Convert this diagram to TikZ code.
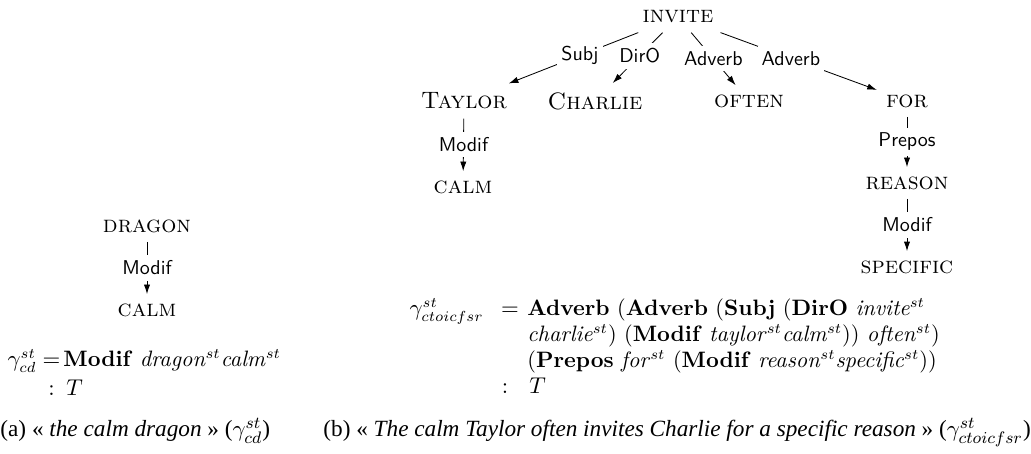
\documentclass[tikz,border=0pt]{standalone}
\usepackage{fontspec}
\usetikzlibrary{arrows.meta}
\newfontfamily\capfont{Liberation Serif}
\begin{document}
\begin{tikzpicture}[x=0.48pt,y=-0.48pt,
	word/.style={font=\fontsize{11.4}{13}\selectfont\scshape,inner sep=4.3pt},
	rel/.style={font=\fontsize{9.6}{11}\selectfont\sffamily,fill=white,inner xsep=2pt,inner ysep=2.6pt},
	dep/.style={arrows={-Latex[length=4.6pt,width=3pt]}},
	formula/.style={inner sep=0pt,font=\fontsize{10.7}{13}\selectfont},
	caption/.style={inner sep=0pt,font=\fontsize{11.15}{13}\selectfont\capfont}]
	\useasboundingbox (0,0) rectangle (1031,454);

	\node [word] (dragon) at (147,226) {dragon};
	\node [word] (calmA) at (147,310) {calm};
	\draw [dep] (dragon) to node [rel] {Modif} (calmA);

	\node [formula,anchor=base east] (gammaA) at (37,367) {$\gamma^{st}_{cd}$};
	\node [formula,anchor=base] (eqA) at (51.5,367) {$=$};
	\node [formula,anchor=base west] (termA) at (63,367) {\textbf{Modif} \textit{dragon}$^{st}$\textit{calm}$^{st}$};
	\node [formula,anchor=base] (colA) at (51.5,396) {$:$};
	\node [formula,anchor=base west] (typeA) at (66,396) {$T$};

	\node [word] (invite) at (678,17) {invite};
	\node [word] (taylor) at (464,101) {Taylor};
	\node [word] (charlie) at (595,101) {Charlie};
	\node [word] (often) at (749,101) {often};
	\node [word] (for) at (907,101) {for};
	\node [word] (calmB) at (463,187) {calm};
	\node [word] (reason) at (907,183) {reason};
	\node [word] (specific) at (907,267) {specific};

	\draw [dep] (invite) to node [rel,pos=0.45] {Subj} (taylor);
	\draw [dep] (invite) to node [rel,pos=0.46] {DirO} (charlie);
	\draw [dep] (invite) to node [rel] {Adverb} (often);
	\draw [dep] (invite) to node [rel,pos=0.45] {Adverb} (for);
	\draw [dep] (taylor) to node [rel] {Modif} (calmB);
	\draw [dep] (for) to node [rel] {Prepos} (reason);
	\draw [dep] (reason) to node [rel] {Modif} (specific);

	\node [formula,anchor=base east] (gammaB) at (484,316) {$\gamma^{st}_{ctoicfsr}$};
	\node [formula,anchor=base] (eqB) at (510,316) {$=$};
	\node [formula,anchor=base west] (lineB1) at (527,316) {\textbf{Adverb} (\textbf{Adverb} (\textbf{Subj} (\textbf{DirO} \textit{invite}$^{st}$};
	\node [formula,anchor=base west] (lineB2) at (527,342) {\textit{charlie}$^{st}$) (\textbf{Modif} \textit{taylor}$^{st}$\textit{calm}$^{st}$)) \textit{often}$^{st}$)};
	\node [formula,anchor=base west] (lineB3) at (527,368) {(\textbf{Prepos} \textit{for}$^{st}$ (\textbf{Modif} \textit{reason}$^{st}$\textit{specific}$^{st}$))};
	\node [formula,anchor=base] (colB) at (505,394) {$:$};
	\node [formula,anchor=base west] (typeB) at (529,394) {$T$};

	\node [caption,anchor=base west] (capA) at (0,437) {(a) « \textit{the calm dragon} » ($\gamma^{st}_{cd}$)};
	\node [caption,anchor=base west] (capB) at (323,437) {(b) « \textit{The calm Taylor often invites Charlie for a specific reason} » ($\gamma^{st}_{ctoicfsr}$)};
\end{tikzpicture}
\end{document}
